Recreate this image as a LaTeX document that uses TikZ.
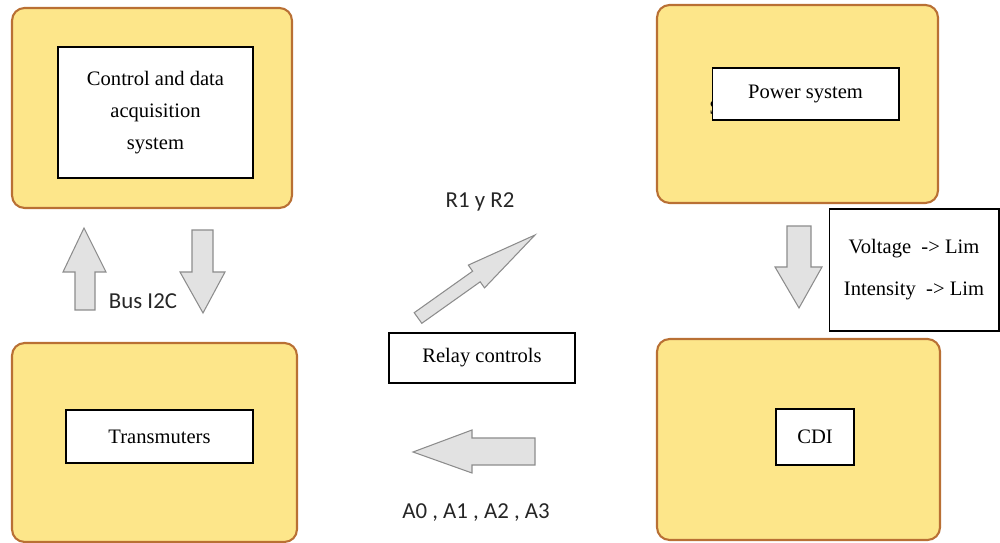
\documentclass[tikz,border=0pt]{standalone}
\usepackage{fontspec}
\setmainfont{Liberation Serif}
\newfontfamily\lblfont{Carlito}
\usepackage{xcolor}
\usepackage{tikz}
\usetikzlibrary{positioning}

\definecolor{yfill}{RGB}{253,230,138}
\definecolor{ybrd}{RGB}{185,112,52}
\definecolor{afill}{RGB}{226,226,226}
\definecolor{abrd}{RGB}{140,140,140}

\begin{document}
\begin{tikzpicture}[x=0.02cm,y=-0.02cm,
  font=\fontsize{11.7}{18}\selectfont,
  ybox/.style={draw=ybrd,fill=yfill,line width=1.2pt,rounded corners=0.25cm,inner sep=0pt},
  wbox/.style={draw,fill=white,line width=0.6pt,align=center,inner sep=0pt},
  barrow/.style={draw=abrd,fill=afill,line width=0.6pt,line join=miter},
  lbl/.style={font=\lblfont\fontsize{13}{15}\selectfont,text=black!85}]
  \useasboundingbox (0,0) rectangle (1000,543);
  % yellow blocks: control (top left), power (top right), transmuters, CDI
  \node[ybox,minimum width=5.6cm,minimum height=4cm]   (ctrl)  at (152,108)   {};
  \node[ybox,minimum width=5.62cm,minimum height=3.96cm] (pwr)  at (797.5,104) {};
  \node[ybox,minimum width=5.7cm,minimum height=3.98cm] (trans) at (154.5,442.5) {};
  \node[ybox,minimum width=5.66cm,minimum height=4.02cm] (cdi)  at (798.5,439.5) {};
  \node[inner sep=0pt,anchor=west] (pwrS) at (709,108) {S};
  % white labels
  \node[wbox,minimum width=3.9cm,minimum height=2.62cm] (ctrlT) at (155.5,112.5) {Control and data\\acquisition\\system};
  \node[wbox,minimum width=3.74cm,minimum height=1.04cm] (pwrT) at (805.5,94) {Power system};
  \node[wbox,minimum width=3.74cm,minimum height=1.06cm] (transT) at (159.5,436.5) {Transmuters};
  \node[wbox,minimum width=1.56cm,minimum height=1.12cm] (cdiT) at (815,437) {CDI};
  \node[wbox,minimum width=3.72cm,minimum height=1cm] (relay) at (482,358) {Relay controls};
  \node[wbox,minimum width=3.4cm,minimum height=2.44cm,font=\fontsize{11.7}{24}\selectfont] (lim) at (914,270)
    {Voltage \ -> Lim\\Intensity \ -> Lim};
  % block arrows
  \draw[barrow] (75,310) -- (75,272) -- (63,272) -- (84,228) -- (106,272) -- (95,272) -- (95,310) -- cycle;
  \draw[barrow] (192,230) -- (213,230) -- (213,272) -- (225,272) -- (203,313) -- (180,272) -- (192,272) -- cycle;
  \draw[barrow] (787,226) -- (811,226) -- (811,267) -- (822,267) -- (799,308) -- (775,267) -- (787,267) -- cycle;
  \draw[barrow] (535,438) -- (472,438) -- (472,430) -- (413,452) -- (472,473) -- (472,465) -- (535,465) -- cycle;
  \draw[barrow] (414.2,312.7) -- (472.6,271.2) -- (468.3,265.1) -- (535,235) -- (484.5,287.9) -- (480.2,281.8) -- (421.8,323.3) -- cycle;
  % signal names
  \node[lbl] (bus) at (143,301) {Bus I2C};
  \node[lbl] (rel) at (480,202) {R1 y R2};
  \node[lbl] (ana) at (476,513) {A0 , A1 , A2 , A3};
\end{tikzpicture}
\end{document}
